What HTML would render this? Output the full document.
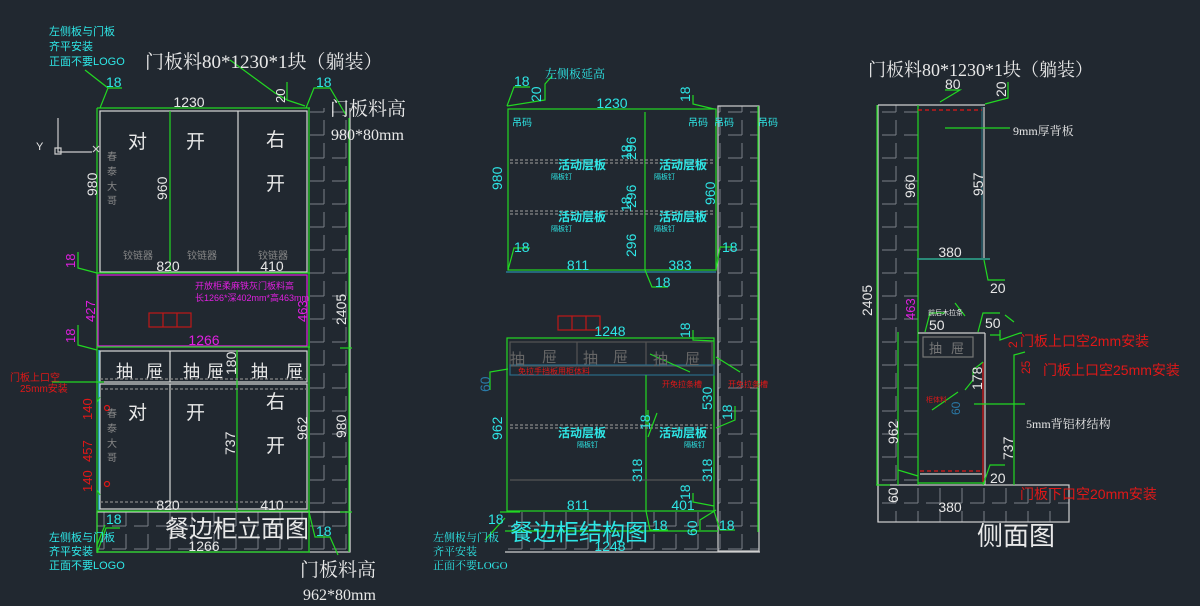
<!DOCTYPE html>
<html><head><meta charset="utf-8"><style>
html,body{margin:0;padding:0;background:#212830;}
svg{display:block}
text{font-family:"Liberation Sans","Noto Sans CJK SC",sans-serif;}
.s{font-family:"Liberation Serif","Noto Serif CJK SC",serif;}
</style></head><body>
<svg width="1200" height="606" viewBox="0 0 1200 606" xmlns="http://www.w3.org/2000/svg">
<defs>
<pattern id="h" width="22" height="23" patternUnits="userSpaceOnUse">
<path d="M2 20 H16 M16 5 V20" stroke="#7a8087" stroke-width="1" fill="none"/>
</pattern>
</defs>
<rect width="1200" height="606" fill="#212830"/>

<!-- ============ LEFT: elevation ============ -->
<g fill="none" stroke-width="1.2">
<rect x="309" y="108" width="41" height="444" fill="url(#h)"/>
<rect x="97" y="512" width="253" height="40" fill="url(#h)"/>
<rect x="97" y="512" width="253" height="40" stroke="#d0d0d0"/>
<line x1="350" y1="108" x2="350" y2="552" stroke="#d0d0d0"/>
<rect x="100" y="111" width="207" height="161" stroke="#d8d8d8"/>
<line x1="238" y1="111" x2="238" y2="272" stroke="#d8d8d8"/>
<line x1="97" y1="108" x2="310" y2="108" stroke="#22d822"/>
<line x1="97" y1="108" x2="97" y2="552" stroke="#22d822"/>
<line x1="309" y1="108" x2="309" y2="552" stroke="#22d822"/>
<line x1="170" y1="111" x2="170" y2="272" stroke="#22d822"/>
<line x1="349" y1="118" x2="349" y2="552" stroke="#22d822"/>
<line x1="340" y1="348" x2="352" y2="348" stroke="#22d822"/>
<line x1="340" y1="512" x2="352" y2="512" stroke="#22d822"/>
<line x1="97" y1="552" x2="310" y2="552" stroke="#22d822"/>
<rect x="98" y="275" width="209" height="71" stroke="#e020e0"/>
<line x1="97" y1="273" x2="310" y2="273" stroke="#22d822"/>
<line x1="97" y1="347" x2="310" y2="347" stroke="#22d822"/>
<rect x="100" y="351" width="207" height="31" stroke="#d8d8d8"/>
<line x1="170" y1="351" x2="170" y2="382" stroke="#d8d8d8"/>
<line x1="237" y1="351" x2="237" y2="382" stroke="#d8d8d8"/>
<rect x="100" y="384" width="207" height="125" stroke="#d8d8d8"/>
<line x1="170" y1="384" x2="170" y2="509" stroke="#d8d8d8"/>
<line x1="237" y1="350" x2="237" y2="512" stroke="#22d822"/>
<line x1="100" y1="379" x2="307" y2="379" stroke="#888" stroke-dasharray="3 2"/>
<line x1="100" y1="389" x2="307" y2="389" stroke="#888" stroke-dasharray="3 2"/>
<line x1="100" y1="502" x2="307" y2="502" stroke="#888" stroke-dasharray="3 2"/>
<line x1="99" y1="350" x2="99" y2="510" stroke="#2ecbe6"/>
<line x1="97" y1="511" x2="310" y2="511" stroke="#22d822"/>
<rect x="149" y="313" width="42" height="14" stroke="#c01818"/>
<line x1="163" y1="313" x2="163" y2="327" stroke="#c01818"/><line x1="177" y1="313" x2="177" y2="327" stroke="#c01818"/>
<path d="M85 70 L108 88 L100 108 M108 88 H122" stroke="#22d822"/>
<path d="M230 60 L275 93 L287 100 V82 M287 100 L305 106" stroke="#22d822"/>
<path d="M306 108 L314 88 H330 L346 115" stroke="#22d822"/>
<path d="M78 252 V268 L97 273" stroke="#22d822"/>
<path d="M78 325 V345 L97 350" stroke="#22d822"/>
<path d="M52 382 H104" stroke="#22d822"/>
<path d="M100 397 L97 402 M100 495 L97 490" stroke="#22d822"/>
<path d="M97 553 L106 528 H120" stroke="#22d822"/>
<path d="M309 512 L315 537 H330 L338 555" stroke="#22d822"/>
<path d="M97 545 L105 525" stroke="#22d822"/>
<path d="M58 118 V152 H92 M55 148 h6 v6 h-6z M93 146 l6 6 M99 146 l-6 6" stroke="#ccc"/>
<circle cx="107" cy="408" r="2.5" stroke="#e01818"/><circle cx="107" cy="484" r="2.5" stroke="#e01818"/>
</g>
<g fill="#e8e8e8" font-size="14">
<text x="189" y="107" text-anchor="middle">1230</text>
<text x="97" y="196" transform="rotate(-90 97 196)">980</text>
<text x="167" y="200" transform="rotate(-90 167 200)">960</text>
<text x="168" y="271" text-anchor="middle">820</text>
<text x="272" y="271" text-anchor="middle">410</text>
<text x="168" y="510" text-anchor="middle">820</text>
<text x="272" y="510" text-anchor="middle">410</text>
<text x="204" y="551" text-anchor="middle">1266</text>
<text x="235" y="455" transform="rotate(-90 235 455)">737</text>
<text x="307" y="440" transform="rotate(-90 307 440)">962</text>
<text x="346" y="438" transform="rotate(-90 346 438)">980</text>
<text x="346" y="325" transform="rotate(-90 346 325)">2405</text>
<text x="236" y="375" transform="rotate(-90 236 375)">180</text>
<text x="36" y="150" font-size="11">Y</text>
<text x="128" y="148" font-size="19">对</text><text x="186" y="148" font-size="19">开</text>
<text x="266" y="146" font-size="19">右</text><text x="266" y="190" font-size="19">开</text>
<text x="128" y="419" font-size="19">对</text><text x="186" y="419" font-size="19">开</text>
<text x="266" y="408" font-size="19">右</text><text x="266" y="452" font-size="19">开</text>
<text x="116" y="377" font-size="17">抽</text><text x="146" y="377" font-size="17">屉</text>
<text x="183" y="377" font-size="17">抽</text><text x="207" y="377" font-size="17">屉</text>
<text x="251" y="377" font-size="17">抽</text><text x="286" y="377" font-size="17">屉</text>
<text x="165" y="537" font-size="24">餐边柜立面图</text>
<text x="145" y="68" font-size="19" class="s">门板料80*1230*1块（躺装）</text>
<text x="330" y="115" font-size="19" class="s">门板料高</text>
<text x="331" y="140" font-size="16" class="s">980*80mm</text>
<text x="300" y="576" font-size="19" class="s">门板料高</text>
<text x="303" y="600" font-size="16" class="s">962*80mm</text>
</g>
<g fill="#888" font-size="10">
<text x="107" y="160">春</text><text x="107" y="175">泰</text><text x="107" y="190">大</text><text x="107" y="204">哥</text>
<text x="107" y="417">春</text><text x="107" y="432">泰</text><text x="107" y="447">大</text><text x="107" y="461">哥</text>
<text x="123" y="259">铰链器</text><text x="187" y="259">铰链器</text><text x="258" y="259">铰链器</text>
</g>
<g fill="#2ee6e6" font-size="11" class="s">
<text x="49" y="35">左侧板与门板</text><text x="49" y="50">齐平安装</text><text x="49" y="65">正面不要LOGO</text>
<text x="49" y="541">左侧板与门板</text><text x="49" y="555">齐平安装</text><text x="49" y="569">正面不要LOGO</text>
<text x="106" y="87" font-size="14">18</text><text x="316" y="87" font-size="14">18</text>
<text x="106" y="524" font-size="14">18</text><text x="316" y="536" font-size="14">18</text>
</g>
<g fill="#e8e8e8"><text x="285" y="103" transform="rotate(-90 285 103)" font-size="13">20</text></g>
<g fill="#e020e0">
<text x="75" y="268" transform="rotate(-90 75 268)" font-size="13">18</text>
<text x="75" y="343" transform="rotate(-90 75 343)" font-size="13">18</text>
<text x="95" y="322" transform="rotate(-90 95 322)" font-size="13">427</text>
<text x="307" y="322" transform="rotate(-90 307 322)" font-size="13">463</text>
<text x="204" y="345" text-anchor="middle" font-size="14">1266</text>
<text x="195" y="289" font-size="9">开放柜柔麻铁灰门板料高</text>
<text x="195" y="301" font-size="9">长1266*深402mm*高463mm</text>
</g>
<g fill="#e01818" font-size="10">
<text x="10" y="381">门板上口空</text><text x="20" y="392">25mm安装</text>
<text x="92" y="420" transform="rotate(-90 92 420)" font-size="13">140</text>
<text x="92" y="462" transform="rotate(-90 92 462)" font-size="13">457</text>
<text x="92" y="492" transform="rotate(-90 92 492)" font-size="13">140</text>
</g>

<!-- ============ MIDDLE ============ -->
<g fill="none" stroke-width="1.2">
<rect x="718" y="106" width="41" height="445" fill="url(#h)" stroke="#d0d0d0"/>
<rect x="505" y="512" width="213" height="40" fill="url(#h)"/>
<line x1="758" y1="106" x2="758" y2="532" stroke="#22d822"/>
<rect x="508" y="109" width="208" height="161" stroke="#22d822"/>
<line x1="645" y1="112" x2="645" y2="270" stroke="#22d822"/>
<line x1="510" y1="160" x2="714" y2="160" stroke="#888" stroke-dasharray="3 2"/>
<line x1="510" y1="163" x2="714" y2="163" stroke="#888" stroke-dasharray="3 2"/>
<line x1="510" y1="211" x2="714" y2="211" stroke="#888" stroke-dasharray="3 2"/>
<line x1="510" y1="214" x2="714" y2="214" stroke="#888" stroke-dasharray="3 2"/>
<line x1="506" y1="272" x2="716" y2="272" stroke="#2a8aa8"/>
<rect x="507" y="338" width="207" height="173" stroke="#22d822"/>
<rect x="510" y="342" width="202" height="24" stroke="#555"/>
<line x1="577" y1="342" x2="577" y2="366" stroke="#555"/><line x1="646" y1="342" x2="646" y2="366" stroke="#555"/>
<rect x="510" y="365" width="204" height="10" stroke="#2a6a88"/>
<line x1="646" y1="375" x2="646" y2="511" stroke="#22d822"/>
<line x1="510" y1="425" x2="712" y2="425" stroke="#888" stroke-dasharray="3 2"/>
<line x1="510" y1="428" x2="712" y2="428" stroke="#888" stroke-dasharray="3 2"/>
<line x1="510" y1="480" x2="712" y2="480" stroke="#555"/>
<line x1="505" y1="531" x2="718" y2="531" stroke="#22d822"/>
<line x1="505" y1="552" x2="760" y2="552" stroke="#d0d0d0"/>
<rect x="558" y="316" width="42" height="14" stroke="#c01818"/>
<line x1="572" y1="316" x2="572" y2="330" stroke="#c01818"/><line x1="586" y1="316" x2="586" y2="330" stroke="#c01818"/>
<path d="M507 106 L514 87 H530 M507 106 L545 100 V84 L552 76 M693 95 V104 L714 109 M508 270 L514 248 H530 M645 270 L652 287 H668 M716 270 L720 247 H735 M693 330 V340 L714 341 M490 390 V372 L508 369 M650 354 L690 372 M716 357 L740 372 M648 425 V410 M648 437 L657 413 M716 428 L735 420 V406 M693 493 V502 L714 506 M716 510 L700 520 V530 M646 511 L650 530 H668 M714 511 L720 530 H735 M500 512 H520 M485 540 L505 518" stroke="#22d822"/>
</g>
<g fill="#2ee6e6" font-size="14">
<text x="612" y="108" text-anchor="middle">1230</text>
<text x="502" y="190" transform="rotate(-90 502 190)">980</text>
<text x="715" y="205" transform="rotate(-90 715 205)">960</text>
<text x="636" y="160" transform="rotate(-90 636 160)">296</text>
<text x="636" y="208" transform="rotate(-90 636 208)">296</text>
<text x="636" y="257" transform="rotate(-90 636 257)">296</text>
<text x="631" y="160" transform="rotate(-90 631 160)">18</text>
<text x="631" y="212" transform="rotate(-90 631 212)">18</text>
<text x="578" y="270" text-anchor="middle">811</text>
<text x="680" y="270" text-anchor="middle">383</text>
<text x="514" y="86">18</text><text x="514" y="252">18</text><text x="655" y="287">18</text><text x="722" y="252">18</text>
<text x="541" y="102" transform="rotate(-90 541 102)">20</text>
<text x="690" y="102" transform="rotate(-90 690 102)">18</text>
<text x="690" y="338" transform="rotate(-90 690 338)">18</text>
<text x="610" y="336" text-anchor="middle">1248</text>
<text x="502" y="440" transform="rotate(-90 502 440)">962</text>
<text x="712" y="410" transform="rotate(-90 712 410)">530</text>
<text x="650" y="430" transform="rotate(-90 650 430)">18</text>
<text x="732" y="420" transform="rotate(-90 732 420)">18</text>
<text x="642" y="482" transform="rotate(-90 642 482)">318</text>
<text x="712" y="482" transform="rotate(-90 712 482)">318</text>
<text x="690" y="500" transform="rotate(-90 690 500)">18</text>
<text x="578" y="510" text-anchor="middle">811</text>
<text x="683" y="510" text-anchor="middle">401</text>
<text x="488" y="524">18</text><text x="652" y="530">18</text><text x="719" y="530">18</text>
<text x="697" y="536" transform="rotate(-90 697 536)">60</text>
<text x="610" y="551" text-anchor="middle">1248</text>
<text x="510" y="540" font-size="23">餐边柜结构图</text>
<text x="545" y="78" font-size="12" class="s">左侧板延高</text>
<text x="433" y="541" font-size="11" class="s">左侧板与门板</text><text x="433" y="555" font-size="11" class="s">齐平安装</text><text x="433" y="569" font-size="11" class="s">正面不要LOGO</text>
<g font-size="10" class="s"><text x="512" y="126">吊码</text><text x="688" y="126">吊码</text><text x="714" y="126">吊码</text><text x="758" y="126">吊码</text></g>
<g font-size="12" class="s" font-weight="bold">
<text x="558" y="169">活动层板</text><text x="659" y="169">活动层板</text>
<text x="558" y="221">活动层板</text><text x="659" y="221">活动层板</text>
<text x="558" y="437">活动层板</text><text x="659" y="437">活动层板</text>
</g>
<g font-size="7"><text x="551" y="179">隔板钉</text><text x="654" y="179">隔板钉</text><text x="551" y="231">隔板钉</text><text x="654" y="231">隔板钉</text><text x="577" y="447">隔板钉</text><text x="684" y="447">隔板钉</text></g>
</g>
<g fill="#666" font-size="15"><text x="510" y="364">抽</text><text x="542" y="362">屉</text><text x="583" y="363">抽</text><text x="613" y="362">屉</text><text x="653" y="364">抽</text><text x="685" y="364">屉</text></g>
<text x="490" y="392" transform="rotate(-90 490 392)" fill="#2a7aa8" font-size="14">60</text>
<g fill="#e01818" font-size="8"><text x="518" y="374">免拉手挡板用柜体料</text><text x="662" y="387">开免拉条槽</text><text x="728" y="387">开免拉条槽</text></g>

<!-- ============ RIGHT ============ -->
<g fill="none" stroke-width="1.2">
<rect x="878" y="105" width="40" height="417" fill="url(#h)"/>
<rect x="878" y="485" width="191" height="37" fill="url(#h)" stroke="#d0d0d0"/>
<line x1="878" y1="105" x2="918" y2="105" stroke="#d0d0d0"/>
<line x1="878" y1="105" x2="878" y2="522" stroke="#d0d0d0"/>
<line x1="877" y1="105" x2="877" y2="485" stroke="#22d822"/>
<line x1="918" y1="105" x2="985" y2="105" stroke="#d0d0d0"/>
<line x1="918" y1="105" x2="918" y2="485" stroke="#22d822"/>
<line x1="984" y1="107" x2="984" y2="259" stroke="#d0d0d0"/>
<line x1="982" y1="107" x2="982" y2="259" stroke="#2a6a78"/>
<line x1="918" y1="110" x2="982" y2="110" stroke="#e01818" stroke-dasharray="4 3"/>
<line x1="917" y1="259" x2="990" y2="259" stroke="#2a8a78" stroke-width="2"/>
<line x1="918" y1="333" x2="985" y2="333" stroke="#d0d0d0"/>
<line x1="985" y1="333" x2="985" y2="485" stroke="#d0d0d0"/>
<line x1="983" y1="362" x2="983" y2="482" stroke="#e01818"/>
<rect x="923" y="337" width="50" height="20" stroke="#777"/>
<line x1="920" y1="474" x2="982" y2="474" stroke="#d0d0d0"/>
<line x1="920" y1="471" x2="982" y2="471" stroke="#e01818" stroke-dasharray="4 3"/>
<line x1="918" y1="483" x2="985" y2="483" stroke="#22d822"/>
<line x1="898" y1="332" x2="898" y2="485" stroke="#22d822"/>
<line x1="876" y1="485" x2="890" y2="485" stroke="#22d822"/>
<path d="M945 128 H1010 M974 404 H1025 M940 102 L960 90 H945 M985 104 L1008 98 V82 M984 260 L988 280 H1005 M925 332 L930 313 H945 M978 332 L983 313 H1000 M990 335 H1000 M1000 330 V340 L1020 333 H1022 M1014 322 L1005 315 M1014 374 V355 L1025 352 M1014 374 V485 M983 485 L990 465 H1005 M898 470 L918 476 M965 316 L955 303 M965 390 L973 380 V370 L983 362 M932 410 L958 392" stroke="#22d822"/>
</g>
<g fill="#e8e8e8" font-size="14">
<text x="868" y="76" font-size="18" class="s">门板料80*1230*1块（躺装）</text>
<text x="945" y="89">80</text>
<text x="1006" y="97" transform="rotate(-90 1006 97)">20</text>
<text x="1013" y="135" font-size="12" class="s">9mm厚背板</text>
<text x="915" y="198" transform="rotate(-90 915 198)">960</text>
<text x="983" y="196" transform="rotate(-90 983 196)">957</text>
<text x="950" y="257" text-anchor="middle">380</text>
<text x="990" y="293">20</text>
<text x="872" y="316" transform="rotate(-90 872 316)">2405</text>
<text x="928" y="315" font-size="7">前后木拉条</text>
<text x="929" y="330">50</text><text x="985" y="328">50</text>
<text x="982" y="390" transform="rotate(-90 982 390)">178</text>
<text x="1026" y="428" font-size="12" class="s">5mm背铝材结构</text>
<text x="898" y="444" transform="rotate(-90 898 444)">962</text>
<text x="1013" y="460" transform="rotate(-90 1013 460)">737</text>
<text x="990" y="483">20</text>
<text x="898" y="503" transform="rotate(-90 898 503)">60</text>
<text x="950" y="512" text-anchor="middle">380</text>
<text x="977" y="545" font-size="26">侧面图</text>
</g>
<g fill="#777" font-size="13"><text x="929" y="353">抽</text><text x="951" y="353">屉</text></g>
<text x="915" y="320" transform="rotate(-90 915 320)" fill="#e020e0" font-size="13">463</text>
<text x="960" y="415" transform="rotate(-90 960 415)" fill="#2a7aa8" font-size="12">60</text>
<g fill="#e01818" class="s">
<text x="926" y="402" font-size="7">柜体料</text>
<text x="1020" y="346" font-size="14">门板上口空2mm安装</text>
<text x="1043" y="375" font-size="14">门板上口空25mm安装</text>
<text x="1020" y="499" font-size="14">门板下口空20mm安装</text>
<text x="1017" y="348" transform="rotate(-90 1017 348)" font-size="12">2</text>
<text x="1030" y="374" transform="rotate(-90 1030 374)" font-size="12">25</text>
</g>
</svg>
</body></html>
